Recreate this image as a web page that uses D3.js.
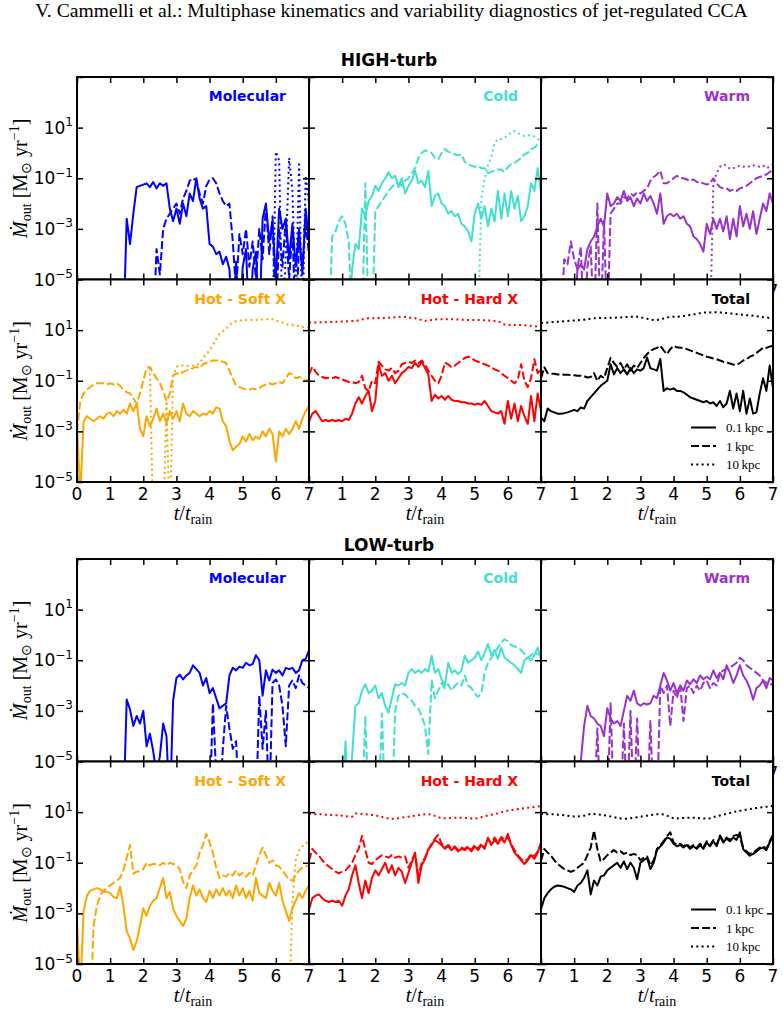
<!DOCTYPE html>
<html><head><meta charset="utf-8">
<script src="https://cdn.jsdelivr.net/npm/d3@7"></script>
<style>body{margin:0;background:#fff}svg{display:block}</style>
</head><body>
<script>
// ---------------- DATA (log10 of Mdot_out [Msun/yr]); each series sampled every 0.1 t_rain from its start time ----
// values of -7 mean "below the 1e-5 axis floor"
const T_STEP = 0.1;
const TIME_TICKS = [0,1,2,3,4,5,6,7];
const MDOT_TICKS = [1e-5,1e-3,1e-1,1e1];
const MDOT_TICK_EXP = ["\u22125","\u22123","\u22121","1"];
const LEGEND_LABELS = ["0.1\u2009kpc","1\u2009kpc","10\u2009kpc"];
const PHASES = ["Molecular","Cold","Warm","Hot - Soft X","Hot - Hard X","Total"];
const PHASE_COLORS = ["#0000ff","#40e0d0","#9932cc","#ffa500","#ff0000","#000000"];

// HIGH-turb
const HIGH_MOL_01 = [-7,-2.6,-3.6,-2.4,-1.35,-1.3,-1.25,-1.2,-1.35,-1.15,-1.4,-1.2,-1.3,-1.2,-2.2,-2.7,-2.2,-2.8,-2.0,-2.5,-1.6,-1.9,-1.0,-1.8,-2.2,-2.1,-3.6,-3.7,-4.0,-3.9,-4.4,-4.1,-4.6,-7,-4.3,-7,-4.5,-3.8,-7,-4.6,-3.9,-7,-2.6,-2.0,-3.5,-2.7,-5,-2.2,-3.0,-2.6,-4.2,-2.8,-4.5,-3.0,-4.8,-2.2,-3.5];
const HIGH_MOL_1 = [-7,-3.8,-4.8,-3.0,-2.6,-2.4,-2.2,-2.0,-2.4,-1.8,-1.5,-1.1,-1.0,-1.1,-1.6,-2.0,-1.3,-1.05,-1.0,-1.2,-1.6,-1.9,-2.1,-2.0,-3.5,-5.5,-3.2,-4.0,-3.0,-4.5,-3.5,-5,-3.0,-4.2,-2.1,-4.0,-2.5,-7,-3.0,-4.5,-2.6,-5,-3.0,-7,-3.5,-4.5,-2.8,-4];
const HIGH_MOL_10 = [-7,0.05,-0.3,-7,-4,-0.2,-1.5,-6,-0.45,-7,-0.9,-2];
const HIGH_COLD_01 = [-7,-4.6,-3.6,-3.8,-2.2,-2.5,-1.9,-1.7,-1.3,-1.5,-1.2,-1.0,-0.76,-1.0,-0.9,-1.35,-1.0,-1.6,-1.3,-1.1,-0.7,-1.2,-1.1,-1.35,-0.7,-2.1,-1.7,-1.6,-2.0,-2.1,-2.4,-2.3,-2.5,-2.4,-2.8,-2.9,-3.1,-3.5,-2.4,-2.0,-2.6,-2.1,-2.9,-2.2,-2.7,-1.5,-2.6,-1.6,-2.5,-1.5,-2.2,-1.7,-2.7,-2.5,-2.1,-1.2,-1.5,-0.6,-1.6];
const HIGH_COLD_1 = [-7,-3.3,-3.1,-2.7,-2.5,-2.8,-3.5,-7,-7,-7,-7,-1.2,-7,-7,-2.3,-2.1,-1.9,-1.7,-1.5,-1.35,-1.2,-1.2,-1.3,-1.1,-1.0,-0.8,-0.6,-0.2,0.0,0.1,0.05,0.0,-0.2,-0.25,0.0,0.15,0.05,0.0,-0.05,-0.1,-0.05,-0.35,-0.45,-0.5,-0.55,-0.5,-0.6,-0.6,-0.8,-0.75,-0.7,-0.65,-0.65,-0.75,-0.55,-0.45,-0.4,-0.3,-0.2,-0.05,0.0,0.15,0.2,0.35,0.4];
const HIGH_COLD_10 = [-7,-1.8,-1.0,-0.5,-0.15,0.4,0.55,0.55,0.6,0.7,0.8,0.87,0.8,0.7,0.67,0.7,0.68,0.65,0.55,0.45];
const HIGH_WARM_01 = [-7,-4.6,-4.4,-4.6,-3.8,-3.5,-3.3,-2.9,-2.6,-2.9,-1.6,-2.1,-2.0,-1.75,-1.9,-1.5,-1.9,-1.75,-2.1,-1.8,-2.0,-1.6,-1.9,-1.7,-2.0,-2.4,-1.6,-2.8,-2.5,-2.4,-2.5,-2.4,-2.6,-2.5,-2.8,-2.9,-3.3,-3.4,-3.6,-3.9,-2.8,-3.2,-2.6,-3.0,-2.6,-3.1,-2.5,-3.4,-2.6,-3.3,-2.1,-2.9,-2.4,-3.0,-2.3,-3.2,-2.6,-2.0,-2.3,-1.6,-2.0];
const HIGH_WARM_1 = [-7,-4.2,-4.4,-3.5,-4.2,-4.6,-3.7,-7,-4.5,-3.7,-7,-2.0,-7,-2.7,-7,-2.4,-2.2,-2.0,-2.0,-1.75,-1.8,-1.6,-1.7,-1.55,-1.6,-1.5,-1.4,-1.1,-0.95,-0.85,-0.7,-1.2,-1.2,-1.1,-1.0,-0.9,-1.0,-1.0,-1.05,-1.1,-1.05,-1.15,-1.15,-1.2,-1.25,-1.2,-1.0,-1.2,-1.35,-1.4,-1.4,-1.5,-1.45,-1.5,-1.4,-1.35,-1.3,-1.2,-1.1,-1.0,-0.95,-0.9,-0.85,-0.75,-0.7];
const HIGH_WARM_10 = [-7,-1.2,-0.8,-0.55,-0.45,-0.5,-0.63,-0.6,-0.56,-0.5,-0.55,-0.5,-0.55,-0.5,-0.5,-0.55,-0.5,-0.6,-0.55,-0.45];
const HIGH_SOFT_01 = [-2.8,-5.5,-2.6,-2.4,-2.5,-2.6,-2.5,-2.4,-2.5,-2.3,-2.25,-2.4,-2.2,-2.3,-2.15,-2.3,-1.9,-2.2,-1.9,-2.9,-3.2,-2.4,-2.8,-2.5,-2.1,-2.6,-2.3,-2.7,-2.2,-2.5,-2.2,-2.6,-1.9,-2.3,-2.4,-2.2,-2.3,-2.4,-2.3,-2.35,-2.2,-2.3,-2.05,-2.1,-2.6,-2.8,-3.4,-3.75,-3.6,-3.5,-3.2,-3.4,-3.1,-3.35,-3.2,-3.3,-3.0,-3.2,-2.9,-3.1,-4.2,-3.0,-3.2,-2.9,-3.1,-2.9,-2.6,-2.9,-2.5,-2.2,-2.0];
const HIGH_SOFT_1 = [-3.0,-1.8,-1.5,-1.35,-1.25,-1.15,-1.1,-1.1,-1.1,-1.15,-1.1,-1.15,-1.1,-1.2,-1.35,-1.45,-1.5,-1.7,-1.9,-1.5,-1.0,-0.5,-0.45,-0.7,-0.9,-1.1,-1.4,-1.8,-1.5,-0.8,-0.7,-0.75,-0.65,-0.6,-0.55,-0.5,-0.45,-0.5,-0.35,-0.3,-0.25,-0.2,-0.2,-0.2,-0.25,-0.3,-0.6,-0.9,-1.2,-1.25,-1.3,-1.35,-1.35,-1.3,-1.35,-1.3,-1.2,-1.15,-1.1,-1.15,-1.1,-1.05,-1.1,-0.9,-0.7,-0.75,-0.9,-0.85,-0.9,-1.0,-0.95];
const HIGH_SOFT_10 = [-0.5,-7,-7,-7,-7,-1.8,-7,-0.8,-0.45,-0.4,-0.4,-0.42,-0.4,-0.4,-0.4,-0.3,-0.1,0.05,0.2,0.4,0.65,0.85,0.95,1.05,1.2,1.3,1.35,1.38,1.4,1.4,1.4,1.4,1.4,1.42,1.42,1.42,1.45,1.43,1.38,1.33,1.3,1.25,1.2,1.2,1.18,1.15,1.12,1.1,1.1];
const HIGH_HARD_01 = [-2.6,-2.3,-2.2,-2.4,-2.6,-2.55,-2.6,-2.55,-2.6,-2.55,-2.6,-2.5,-2.55,-2.3,-1.9,-1.65,-1.9,-1.6,-1.4,-2.2,-1.8,-0.35,-0.8,-0.7,-1.0,-0.8,-1.1,-0.9,-0.7,-0.6,-0.45,-0.5,-0.3,-0.45,-0.25,-0.5,-0.75,-1.8,-1.55,-1.7,-1.6,-1.75,-1.6,-1.75,-1.8,-1.8,-1.85,-1.85,-1.9,-1.9,-1.95,-1.9,-1.95,-1.8,-2.0,-2.2,-2.25,-2.3,-2.2,-2.7,-1.8,-2.5,-1.9,-2.6,-2.0,-2.4,-2.7,-1.6,-2.6,-1.5,-2.2];
const HIGH_HARD_1 = [-0.75,-0.45,-0.65,-0.8,-0.85,-0.9,-0.88,-0.9,-0.85,-0.9,-0.95,-1.0,-1.05,-1.05,-1.1,-1.05,-0.8,-1.3,-1.4,-1.0,-1.1,-0.25,-0.4,-0.55,-0.6,-0.5,-0.7,-0.6,-0.35,-0.3,-0.25,-0.3,-0.2,-0.3,-0.2,-0.35,-0.6,-0.8,-1.0,-1.1,-0.8,-0.28,-0.35,-0.47,-0.4,-0.3,-0.2,-0.1,-0.05,-0.1,-0.2,-0.25,-0.3,-0.35,-0.4,-0.47,-0.55,-0.6,-0.7,-0.8,-0.9,-1.0,-1.1,-0.95,-0.35,-1.0,-1.25,-0.9,-0.15,-0.7,-0.55];
const HIGH_HARD_10 = [1.3,1.3,1.3,1.31,1.31,1.31,1.32,1.32,1.33,1.33,1.34,1.34,1.35,1.36,1.37,1.38,1.42,1.46,1.47,1.47,1.47,1.48,1.48,1.48,1.49,1.5,1.51,1.52,1.53,1.52,1.5,1.48,1.47,1.44,1.4,1.37,1.38,1.4,1.42,1.43,1.43,1.43,1.43,1.43,1.42,1.42,1.41,1.41,1.4,1.4,1.4,1.4,1.39,1.39,1.38,1.38,1.36,1.34,1.3,1.22,1.2,1.2,1.2,1.2,1.2,1.19,1.18,1.17,1.16,1.14,1.13];
const HIGH_TOT_01 = [-2.45,-2.6,-2.1,-2.2,-2.25,-2.3,-2.3,-2.28,-2.25,-2.2,-2.15,-2.2,-2.05,-2.1,-1.8,-1.65,-1.5,-1.35,-1.2,-1.1,-1.0,-0.35,-0.75,-0.5,-0.7,-0.55,-0.75,-0.5,-0.7,-0.55,-0.6,-0.5,-0.08,-0.5,-0.55,-0.6,-0.14,-1.4,-1.3,-1.35,-1.3,-1.4,-1.4,-1.46,-1.55,-1.65,-1.7,-1.75,-1.8,-1.85,-1.8,-1.9,-1.85,-2.0,-1.8,-2.05,-1.9,-1.4,-2.1,-1.5,-2.2,-1.4,-2.3,-1.7,-2.3,-2.25,-1.5,-0.9,-1.4,-0.4,-1.3];
const HIGH_TOT_1 = [-0.9,-0.47,-0.7,-0.72,-0.72,-0.75,-0.75,-0.76,-0.76,-0.78,-0.78,-0.8,-0.8,-0.82,-0.87,-0.85,-0.7,-1.0,-0.8,-0.9,-0.5,-0.1,-0.3,-0.45,-0.3,-0.55,-0.35,-0.6,-0.4,-0.5,-0.3,-0.1,0.05,0.18,0.25,0.3,0.38,0.2,0.05,0.25,0.38,0.32,0.3,0.3,0.25,0.2,0.15,0.1,0.05,0.0,-0.05,-0.08,-0.12,-0.15,-0.2,-0.25,-0.28,-0.32,-0.36,-0.37,-0.3,-0.2,-0.15,-0.05,0.0,0.1,0.2,0.3,0.3,0.35,0.38];
const HIGH_TOT_10 = [1.28,1.29,1.3,1.31,1.32,1.33,1.34,1.35,1.36,1.37,1.38,1.39,1.4,1.41,1.43,1.45,1.47,1.47,1.48,1.48,1.48,1.49,1.49,1.5,1.5,1.51,1.52,1.53,1.53,1.53,1.51,1.48,1.45,1.42,1.4,1.4,1.43,1.46,1.5,1.52,1.53,1.53,1.54,1.56,1.58,1.6,1.62,1.65,1.67,1.69,1.7,1.7,1.71,1.71,1.7,1.7,1.68,1.66,1.65,1.63,1.62,1.6,1.59,1.58,1.57,1.55,1.53,1.51,1.5,1.48,1.47];

// LOW-turb
const LOW_MOL_01 = [-7,-2.55,-2.95,-3.6,-3.2,-3.5,-3.0,-4.4,-3.9,-4.6,-5.5,-4.8,-3.5,-4.0,-7,-2.6,-1.7,-1.57,-1.76,-1.6,-1.5,-1.2,-1.35,-1.5,-2.0,-1.7,-2.3,-2.1,-2.5,-2.9,-2.8,-2.7,-1.6,-1.3,-1.4,-1.25,-1.3,-1.1,-1.2,-1.15,-0.8,-1.0,-2.4,-1.4,-1.8,-1.37,-1.5,-1.4,-1.6,-1.3,-1.35,-1.3,-1.5,-1.4,-1.0,-0.95,-0.6];
const LOW_MOL_1 = [-7,-2.7,-5.5,-7,-4.5,-2.8,-3.7,-4.5,-4.2,-7,-7,-7,-7,-7,-7,-2.4,-4.5,-3.0,-7,-1.9,-1.76,-2.0,-2.8,-4.4,-2.0,-1.8,-2.1,-1.6,-1.9,-2.0,-2.1];
const LOW_COLD_01 = [-7,-4.2,-7,-4.8,-2.8,-2.7,-2.2,-1.95,-2.3,-2.2,-2.0,-2.5,-2.3,-2.8,-3.07,-2.5,-1.95,-2.0,-1.9,-2.0,-1.5,-1.35,-1.5,-1.4,-1.5,-1.35,-1.45,-0.82,-1.5,-1.35,-1.75,-2.0,-1.1,-1.5,-1.4,-1.55,-1.4,-0.82,-1.1,-1.0,-0.9,-0.65,-1.0,-0.7,-0.36,-0.8,-0.6,-0.95,-0.5,-0.9,-1.0,-1.1,-1.2,-1.35,-1.5,-1.0,-0.9,-1.0,-0.8,-0.5,-0.95];
const LOW_COLD_1 = [-7,-3.2,-7,-7,-7,-7,-3.1,-7,-7,-7,-3.0,-2.4,-2.3,-2.35,-2.5,-2.6,-2.8,-2.9,-3.2,-3.6,-4.7,-1.8,-2.5,-2.2,-1.9,-2.1,-1.95,-2.2,-2.0,-1.9,-2.0,-1.6,-2.0,-2.1,-2.3,-2.45,-2.3,-1.5,-1.1,-0.9,-0.7,-0.5,-0.3,-0.17,-0.25,-0.4,-0.45,-0.5,-0.6,-0.75,-0.9,-0.8,-0.7,-0.75,-0.8];
const LOW_WARM_01 = [-7,-5.0,-5.0,-3.6,-2.8,-3.2,-3.3,-3.5,-3.6,-4.0,-2.9,-3.3,-3.5,-3.4,-3.6,-3.0,-2.4,-2.6,-2.2,-2.7,-2.8,-2.7,-2.75,-2.7,-2.4,-2.5,-2.0,-1.5,-1.8,-2.2,-1.9,-2.3,-2.0,-2.2,-1.8,-1.95,-1.75,-1.9,-1.6,-1.75,-1.65,-1.75,-1.4,-1.7,-1.5,-1.75,-1.2,-1.5,-1.9,-1.6,-1.2,-1.6,-1.8,-2.1,-2.56,-2.1,-2.0,-1.8,-2.1,-1.7,-1.8];
const LOW_WARM_1 = [-7,-3.7,-7,-7,-7,-2.7,-7,-7,-7,-3.5,-7,-3.0,-7,-3.3,-7,-7,-7,-3.4,-7,-7,-2.0,-2.3,-2.0,-3.6,-2.2,-2.5,-2.0,-3.4,-2.1,-2.0,-2.3,-2.0,-2.2,-1.9,-1.8,-2.1,-1.9,-2.0,-1.5,-1.4,-1.35,-1.3,-1.2,-1.1,-0.9,-1.0,-1.2,-1.3,-1.4,-1.5,-1.6,-1.8,-1.9,-2.0,-1.9];
const LOW_SOFT_01 = [-3.3,-6,-2.9,-2.3,-2.1,-2.05,-2.0,-2.05,-2.15,-2.15,-2.2,-2.35,-2.4,-1.95,-2.7,-3.7,-4.0,-4.45,-4.1,-3.5,-2.8,-3.1,-2.7,-2.5,-2.4,-2.0,-1.6,-2.4,-2.15,-2.8,-3.1,-3.3,-3.5,-3.2,-2.4,-1.9,-2.3,-2.05,-2.4,-2.55,-2.1,-2.4,-2.05,-2.3,-2.0,-2.3,-2.1,-2.4,-1.9,-2.3,-2.0,-2.4,-2.1,-2.5,-1.6,-2.2,-2.3,-2.4,-1.8,-2.1,-2.3,-1.8,-2.5,-2.9,-3.3,-2.8,-2.5,-2.2,-2.4,-2.1,-1.9];
const LOW_SOFT_1 = [-7,-3.5,-2.7,-2.3,-2.1,-2.0,-1.9,-1.8,-1.7,-1.6,-1.3,-0.8,-0.3,-1.43,-1.35,-1.35,-1.25,-1.0,-1.1,-1.05,-1.05,-1.1,-1.0,-1.1,-1.0,-1.05,-1.1,-1.25,-1.75,-2.0,-1.5,-1.3,-1.1,-0.6,-0.3,0.14,-0.2,-0.6,-1.2,-1.6,-1.5,-1.55,-1.4,-1.5,-1.3,-1.5,-1.4,-1.55,-1.4,-1.5,-1.1,-0.7,-0.4,-0.7,-1.0,-0.9,-1.1,-1.15,-1.3,-1.5,-1.65,-1.7,-1.5,-1.3,-1.2,-1.15,-1.1];
const LOW_SOFT_10 = [-7,-2.5,-0.9,-0.5,-0.35,-0.25,-0.12];
const LOW_HARD_01 = [-2.84,-2.4,-2.3,-2.25,-2.4,-2.5,-2.55,-2.5,-2.55,-2.5,-2.7,-2.3,-2.05,-1.5,-1.1,-1.8,-2.4,-1.7,-2.2,-1.6,-1.3,-1.5,-1.25,-1.0,-1.4,-1.1,-1.5,-1.2,-1.35,-1.8,-1.4,-1.0,-0.6,-1.8,-1.1,-0.85,-0.46,-0.3,-0.1,-0.2,-0.3,-0.45,-0.35,-0.5,-0.4,-0.55,-0.45,-0.5,-0.4,-0.55,-0.35,-0.5,-0.3,-0.45,0.0,-0.3,-0.1,-0.25,-0.05,-0.2,0.14,-0.3,-0.6,-0.75,-0.9,-1.05,-0.9,-0.7,-0.85,-0.6,-0.2];
const LOW_HARD_1 = [-0.92,-0.46,-0.6,-0.72,-0.9,-1.05,-1.15,-1.25,-1.35,-1.42,-1.35,-1.3,-1.15,-1.0,-0.7,-0.45,0.07,-0.5,-1.0,-1.05,-0.9,-0.8,-0.7,-0.75,-0.8,-0.7,-0.8,-0.75,-0.8,-0.75,-1.2,-0.9,-0.65,-1.5,-1.0,-0.8,-0.5,-0.25,-0.05,0.1,-0.25,-0.4,-0.3,-0.45,-0.35,-0.5,-0.4,-0.45,-0.35,-0.5,-0.3,-0.45,-0.25,-0.4,-0.05,-0.25,0.0,-0.2,0.02,-0.1,0.0,-0.25,-0.5,-0.7,-0.85,-0.95,-0.85,-0.65,-0.75,-0.55,-0.25];
const LOW_HARD_10 = [0.93,0.93,0.92,0.92,0.91,0.9,0.9,0.89,0.88,0.87,0.86,0.84,0.82,0.82,0.95,0.95,0.93,0.92,0.9,0.89,0.87,0.84,0.81,0.78,0.75,0.74,0.74,0.76,0.78,0.8,0.82,0.84,0.86,0.88,0.9,0.92,0.92,0.91,0.85,0.8,0.76,0.76,0.77,0.77,0.78,0.78,0.78,0.77,0.76,0.75,0.74,0.76,0.8,0.84,0.87,0.9,0.92,0.95,1.0,1.03,1.06,1.08,1.1,1.12,1.14,1.15,1.17,1.18,1.2,1.22,1.24];
const LOW_TOT_01 = [-2.84,-2.4,-2.2,-2.05,-1.95,-1.9,-1.92,-1.95,-2.0,-2.05,-2.15,-1.9,-1.8,-1.6,-1.3,-2.25,-1.7,-1.9,-1.55,-1.5,-1.3,-1.2,-1.1,-1.0,-1.2,-0.95,-1.25,-1.0,-1.2,-1.65,-1.0,-0.9,-0.8,-1.25,-1.0,-0.5,-0.35,-0.2,0.0,-0.05,-0.25,-0.35,-0.3,-0.4,-0.3,-0.45,-0.35,-0.45,-0.3,-0.45,-0.2,-0.35,-0.15,-0.35,0.05,-0.2,-0.05,-0.15,0.0,-0.1,0.2,-0.46,-0.6,-0.72,-0.65,-0.55,-0.45,-0.4,-0.5,-0.2,0.07];
const LOW_TOT_1 = [-0.92,-0.46,-0.6,-0.72,-0.9,-1.05,-1.15,-1.25,-1.3,-1.36,-1.3,-1.2,-1.1,-1.0,-0.7,-0.4,0.27,-0.45,-0.95,-0.85,-0.7,-0.6,-0.5,-0.6,-0.55,-0.65,-0.6,-0.7,-0.65,-0.7,-0.9,-0.8,-0.75,-1.1,-0.9,-0.45,-0.3,-0.15,0.05,0.2,-0.2,-0.3,-0.25,-0.35,-0.25,-0.4,-0.3,-0.4,-0.25,-0.4,-0.15,-0.3,-0.1,-0.3,0.08,-0.15,0.0,-0.1,0.05,0.1,0.0,-0.4,-0.55,-0.65,-0.6,-0.5,-0.4,-0.35,-0.45,-0.15,0.1];
const LOW_TOT_10 = [0.93,0.93,0.92,0.92,0.91,0.9,0.89,0.88,0.86,0.84,0.83,0.83,0.84,0.86,0.9,0.93,0.93,0.91,0.9,0.88,0.86,0.83,0.8,0.77,0.75,0.74,0.74,0.76,0.78,0.8,0.82,0.84,0.86,0.88,0.9,0.92,0.92,0.91,0.86,0.8,0.76,0.75,0.76,0.77,0.78,0.78,0.78,0.77,0.76,0.75,0.74,0.76,0.8,0.84,0.87,0.9,0.93,0.96,1.0,1.03,1.05,1.07,1.1,1.12,1.14,1.16,1.18,1.19,1.21,1.23,1.24];

// series: [start time, values, radius index 0=0.1kpc,1=1kpc,2=10kpc]
const FIGURES = [
  {title:"HIGH-turb", panels:[
    [[1.4,HIGH_MOL_01,0],[2.3,HIGH_MOL_1,1],[5.9,HIGH_MOL_10,2]],
    [[1.2,HIGH_COLD_01,0],[0.6,HIGH_COLD_1,1],[5.1,HIGH_COLD_10,2]],
    [[1.0,HIGH_WARM_01,0],[0.6,HIGH_WARM_1,1],[5.1,HIGH_WARM_10,2]],
    [[0,HIGH_SOFT_01,0],[0,HIGH_SOFT_1,1],[2.2,HIGH_SOFT_10,2]],
    [[0,HIGH_HARD_01,0],[0,HIGH_HARD_1,1],[0,HIGH_HARD_10,2]],
    [[0,HIGH_TOT_01,0],[0,HIGH_TOT_1,1],[0,HIGH_TOT_10,2]]
  ]},
  {title:"LOW-turb", panels:[
    [[1.4,LOW_MOL_01,0],[4.0,LOW_MOL_1,1]],
    [[1.0,LOW_COLD_01,0],[1.6,LOW_COLD_1,1]],
    [[1.0,LOW_WARM_01,0],[1.6,LOW_WARM_1,1]],
    [[0,LOW_SOFT_01,0],[0.4,LOW_SOFT_1,1],[6.4,LOW_SOFT_10,2]],
    [[0,LOW_HARD_01,0],[0,LOW_HARD_1,1],[0,LOW_HARD_10,2]],
    [[0,LOW_TOT_01,0],[0,LOW_TOT_1,1],[0,LOW_TOT_10,2]]
  ]}
];

// ---------------- LAYOUT ----------------
const W = 783, H = 1014;
const FIG_TOP = [77, 559], FIG_TITLE_Y = [66, 551];
const PX0 = 77, PW = 232, PH = 202.5;
const DASH = [null, "8,3", "2,3.3"];
const SANS = "'DejaVu Sans', sans-serif", SERIF = "'Liberation Serif','Times New Roman',serif";

const svg = d3.select("body").append("svg").attr("width", W).attr("height", H);
svg.append("rect").attr("width", W).attr("height", H).attr("fill", "#fff");

// page header
const header = svg.append("text").attr("x", 391.5).attr("y", 17).attr("text-anchor", "middle")
  .attr("font-family", SERIF).attr("font-size", 14.5)
  .text("V. Cammelli et al.: Multiphase kinematics and variability diagnostics of jet-regulated CCA");
{
  const len = header.node().getComputedTextLength();
  header.attr("font-size", 14.5 * 713 / len);
}

FIGURES.forEach((fig, f) => {
  svg.append("text").attr("x", 389).attr("y", FIG_TITLE_Y[f]).attr("text-anchor", "middle")
    .attr("font-family", SANS).attr("font-weight", "bold").attr("font-size", 17).text(fig.title);

  fig.panels.forEach((series, k) => {
    const r = Math.floor(k / 3), c = k % 3;
    const x0 = PX0 + c * PW, y0 = FIG_TOP[f] + r * PH;
    const x = d3.scaleLinear().domain([0, 7]).range([x0, x0 + PW]);
    const y = d3.scaleLog().domain([1e-5, 1e3]).range([y0 + PH, y0]);
    const g = svg.append("g");
    g.append("rect").attr("x", x0).attr("y", y0).attr("width", PW).attr("height", PH).attr("fill", "#fff");
    const cid = `clip${f}_${k}`;
    g.append("clipPath").attr("id", cid).append("rect").attr("x", x0).attr("y", y0).attr("width", PW).attr("height", PH);

    const line = d3.line().x(d => x(d.t)).y(d => y(Math.pow(10, d.v)));
    const color = PHASE_COLORS[k];
    const lg = g.append("g").attr("clip-path", `url(#${cid})`);
    series.forEach(([t0, vals, ri]) => {
      const pts = vals.map((v, i) => ({t: t0 + i * T_STEP, v}));
      lg.append("path").datum(pts).attr("d", line).attr("fill", "none").attr("stroke", color)
        .attr("stroke-width", 2).attr("stroke-linejoin", "round")
        .attr("stroke-dasharray", DASH[ri]);
    });

    // frame + inward ticks on all four sides
    g.append("rect").attr("x", x0).attr("y", y0).attr("width", PW).attr("height", PH)
      .attr("fill", "none").attr("stroke", "#000").attr("stroke-width", 2);
    const yTickVals = MDOT_TICKS.concat([1e3]);
    const addAxis = (axis, tx, ty) => {
      const a = g.append("g").attr("transform", `translate(${tx},${ty})`).call(axis);
      a.select(".domain").remove();
      a.selectAll(".tick line").attr("stroke-width", 1.5);
    };
    addAxis(d3.axisRight(y).tickValues(yTickVals).tickSize(6).tickFormat(""), x0, 0);
    addAxis(d3.axisLeft(y).tickValues(yTickVals).tickSize(6).tickFormat(""), x0 + PW, 0);
    addAxis(d3.axisTop(x).tickValues(TIME_TICKS).tickSize(6).tickFormat(""), 0, y0 + PH);
    addAxis(d3.axisBottom(x).tickValues(TIME_TICKS).tickSize(6).tickFormat(""), 0, y0);

    // panel name
    g.append("text").attr("x", x0 + PW - 23).attr("y", y0 + 24).attr("text-anchor", "end")
      .attr("font-family", SANS).attr("font-weight", "bold").attr("font-size", 14)
      .attr("fill", color).text(PHASES[k]);

    // x tick labels: bottom row fully; top row only the last "7" of the right column peeks out
    TIME_TICKS.forEach(tv => {
      if (r === 0 && !(c === 2 && tv === 7)) return;
      if (r === 1 && tv === 0 && c > 0) return;
      g.append("text").attr("x", x(tv)).attr("y", y0 + PH + 17.5).attr("text-anchor", "middle")
        .attr("font-family", SANS).attr("font-size", 17).text(tv);
    });

    // y tick labels (left column)
    if (c === 0) {
      MDOT_TICKS.forEach((tv, i) => {
        const t = g.append("text").attr("x", x0 - 4).attr("y", y(tv) + 6).attr("text-anchor", "end")
          .attr("font-family", SANS).attr("font-size", 17);
        t.append("tspan").text("10");
        t.append("tspan").attr("dy", -7.5).attr("font-size", 12).text(MDOT_TICK_EXP[i]);
      });
      // y axis title
      const yl = g.append("text").attr("transform", `translate(27,${y0 + PH / 2}) rotate(-90)`)
        .attr("text-anchor", "middle").attr("font-family", SERIF).attr("font-size", 20);
      yl.append("tspan").attr("font-style", "italic").text("\u1E40");
      yl.append("tspan").attr("dy", 4).attr("font-size", 14).text("out");
      yl.append("tspan").attr("dy", -4).text(" [M");
      yl.append("tspan").attr("dy", 4).attr("font-size", 14).text("\u2299");
      yl.append("tspan").attr("dy", -4).text(" yr");
      yl.append("tspan").attr("dy", -8).attr("font-size", 14).text("\u22121");
      yl.append("tspan").attr("dy", 8).text("]");
    }

    // x axis title (bottom row)
    if (r === 1) {
      const xl = g.append("text").attr("x", x0 + PW / 2).attr("y", y0 + PH + 38).attr("text-anchor", "middle")
        .attr("font-family", SERIF).attr("font-size", 20);
      xl.append("tspan").attr("font-style", "italic").text("t");
      xl.append("tspan").text("/");
      xl.append("tspan").attr("font-style", "italic").text("t");
      xl.append("tspan").attr("dy", 4).attr("font-size", 14).text("rain");
    }

    // legend in Total panel
    if (k === 5) {
      LEGEND_LABELS.forEach((lab, i) => {
        const ly = y0 + 148 + i * 18.5;
        g.append("line").attr("x1", x0 + PW - 82).attr("x2", x0 + PW - 57).attr("y1", ly).attr("y2", ly)
          .attr("stroke", "#000").attr("stroke-width", 2).attr("stroke-dasharray", DASH[i]);
        g.append("text").attr("x", x0 + PW - 47).attr("y", ly + 4.5)
          .attr("font-family", SERIF).attr("font-size", 13).text(lab);
      });
    }
  });
});
</script>
</body></html>
